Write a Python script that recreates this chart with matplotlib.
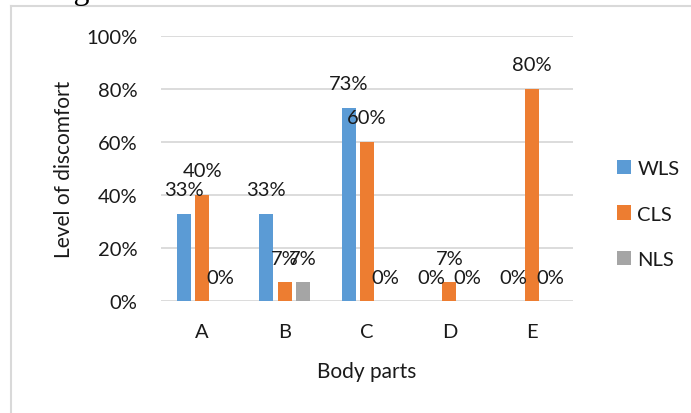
import matplotlib
matplotlib.use("Agg")
import matplotlib.pyplot as plt
from matplotlib.lines import Line2D
from matplotlib.patches import Patch
import numpy as np

# Data
body_parts = ["A", "B", "C", "D", "E"]
series_names = ["WLS", "CLS", "NLS"]
wls = [0.33, 0.33, 0.73, 0.00, 0.00]
cls = [0.40, 0.07, 0.60, 0.07, 0.80]
nls = [0.00, 0.07, 0.00, 0.00, 0.00]
y_ticks = [0.0, 0.2, 0.4, 0.6, 0.8, 1.0]

colors = ["#5B9BD5", "#ED7D31", "#A5A5A5"]
grid_color = "#D9D9D9"
text_color = "#1a1a1a"
font = "Lato"
fs = 14.5
title_fs = 15

W, H, DPI = 691, 414, 100
fig = plt.figure(figsize=(W / DPI, H / DPI), dpi=DPI)
fig.patch.set_facecolor("white")

# plot area in pixels
left, right, top, bottom = 161, 573, 37, 302
ax = fig.add_axes([left / W, 1 - bottom / H, (right - left) / W, (bottom - top) / H])

x = np.arange(len(body_parts))
bar_w = 0.17
step = 0.222
all_series = [wls, cls, nls]
for i, (vals, name, c) in enumerate(zip(all_series, series_names, colors)):
    xs = x + (i - 1) * step
    ax.bar(xs, vals, width=bar_w, color=c, label=name, zorder=3)
    for xi, v in zip(xs, vals):
        ax.annotate(f"{round(v * 100):.0f}%", (xi, v), xytext=(0, 24),
                    textcoords="offset pixels", ha="center", va="center",
                    fontsize=fs, family=font, color=text_color, zorder=4)

ax.set_xlim(-0.5, len(body_parts) - 0.5)
ax.set_ylim(0, 1.0)
ax.set_yticks(y_ticks)
ax.set_yticklabels([f"{int(round(t * 100))}%" for t in y_ticks])
ax.set_xticks(x)
ax.set_xticklabels(body_parts)
for s in ax.spines.values():
    s.set_visible(False)
ax.tick_params(length=0, labelsize=fs, colors=text_color)
ax.tick_params(axis="y", pad=17)
ax.tick_params(axis="x", pad=16)
for lab in ax.get_xticklabels() + ax.get_yticklabels():
    lab.set_family(font)
ax.yaxis.grid(True, color=grid_color, linewidth=1.3, zorder=0)
ax.set_axisbelow(True)

ax.set_xlabel("Body parts", fontsize=title_fs, family=font, color=text_color, labelpad=15)
ax.set_ylabel("Level of discomfort", fontsize=title_fs, family=font, color=text_color)
ax.yaxis.set_label_coords((74 - left) / (right - left), 0.5)

handles = [Patch(facecolor=c, edgecolor="none") for c in colors]
fig.legend(handles, series_names, loc="center left",
           bbox_to_anchor=(599 / W, 1 - 215 / H), frameon=False,
           prop={"family": font, "size": fs}, handlelength=0.7, handleheight=0.7,
           handletextpad=0.3, labelspacing=1.42, labelcolor=text_color)

# chart frame and the line of text above it
fig.add_artist(Line2D([11 / W, 11 / W], [0, 1 - 7 / H], transform=fig.transFigure,
                      color=grid_color, linewidth=1.5))
fig.add_artist(Line2D([11 / W, 1], [1 - 7 / H, 1 - 7 / H], transform=fig.transFigure,
                      color=grid_color, linewidth=1.5))
fig.text(14 / W, 1 + 1 / H, "change.", family="Liberation Serif", fontsize=23,
         ha="left", va="baseline", color="black")

fig.savefig("out.png", dpi=DPI, facecolor="white")
